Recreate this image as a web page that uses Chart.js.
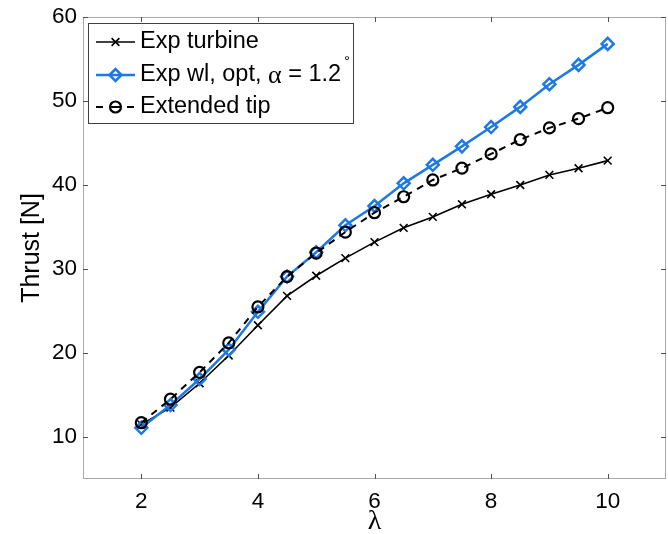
<!DOCTYPE html>
<html>
<head>
<meta charset="utf-8">
<script src="https://cdn.jsdelivr.net/npm/chart.js@4/dist/chart.umd.min.js"></script>
<style>
  html, body { margin: 0; padding: 0; background: #fff; }
  #wrap { width: 668px; height: 534px; }
</style>
</head>
<body>
<div id="wrap"><canvas id="thrust" width="668" height="534"></canvas></div>
<script>
// Tip speed ratio and measured/computed thrust
const lambdaValues = [2, 2.5, 3, 3.5, 4, 4.5, 5, 5.5, 6, 6.5, 7, 7.5, 8, 8.5, 9, 9.5, 10];
const expTurbine   = [11.5, 13.5, 16.4, 19.7, 23.3, 26.8, 29.2, 31.3, 33.2, 34.9, 36.2, 37.7, 38.9, 40.0, 41.2, 42.0, 42.9];
const expWlOpt     = [11.1, 13.8, 16.9, 20.4, 24.9, 29.1, 32.0, 35.2, 37.5, 40.2, 42.4, 44.6, 46.9, 49.3, 52.0, 54.3, 56.8];
const extendedTip  = [11.7, 14.5, 17.7, 21.2, 25.5, 29.1, 31.9, 34.4, 36.7, 38.6, 40.6, 42.0, 43.7, 45.4, 46.8, 47.9, 49.2];

const xTickValues = [2, 4, 6, 8, 10];
const yTickValues = [10, 20, 30, 40, 50, 60];
const seriesLabels = ['Exp turbine', 'Exp wl, opt, \u03B1 = 1.2\u00B0', 'Extended tip'];

const BLUE = '#1e78e6';
const SANS = '"Liberation Sans", Arial, sans-serif';
const SERIF = '"Liberation Serif", "DejaVu Serif", serif';

function points(ys) {
  return lambdaValues.map((x, i) => ({ x: x, y: ys[i] }));
}

function noScalePadding(s) {
  s.paddingLeft = 0; s.paddingRight = 0; s.paddingTop = 0; s.paddingBottom = 0;
}

// Box around the axes with inward tick marks on all four sides
const framePlugin = {
  id: 'frame',
  afterDatasetsDraw(chart) {
    const { ctx, chartArea: a, scales } = chart;
    ctx.save();
    ctx.lineWidth = 1;
    ctx.strokeStyle = '#a9a9a9';
    ctx.strokeRect(a.left + 0.5, a.top + 0.5, a.right - a.left - 1, a.bottom - a.top - 1);
    ctx.strokeStyle = '#505050';
    ctx.beginPath();
    xTickValues.forEach(v => {
      const px = Math.round(scales.x.getPixelForValue(v)) + 0.5;
      ctx.moveTo(px, a.bottom); ctx.lineTo(px, a.bottom - 5);
      ctx.moveTo(px, a.top); ctx.lineTo(px, a.top + 5);
    });
    yTickValues.forEach(v => {
      const py = Math.round(scales.y.getPixelForValue(v)) + 0.5;
      ctx.moveTo(a.left, py); ctx.lineTo(a.left + 5, py);
      ctx.moveTo(a.right, py); ctx.lineTo(a.right - 5, py);
    });
    ctx.stroke();
    ctx.restore();
  }
};

function drawMarker(ctx, style, x, y, r) {
  ctx.beginPath();
  if (style === 'crossRot') {
    const o = r * Math.SQRT1_2;
    ctx.moveTo(x - o, y - o); ctx.lineTo(x + o, y + o);
    ctx.moveTo(x + o, y - o); ctx.lineTo(x - o, y + o);
  } else if (style === 'rectRot') {
    ctx.moveTo(x - r, y); ctx.lineTo(x, y - r); ctx.lineTo(x + r, y); ctx.lineTo(x, y + r);
    ctx.closePath();
  } else {
    ctx.arc(x, y, r, 0, Math.PI * 2);
  }
  ctx.stroke();
}

// Boxed legend in the upper-left corner of the plot
const boxLegendPlugin = {
  id: 'boxLegend',
  afterDraw(chart) {
    const ctx = chart.ctx;
    const bx = 88, by = 23, bw = 265, bh = 100;
    const rows = [42, 75, 107];
    ctx.save();
    ctx.fillStyle = '#fff';
    ctx.fillRect(bx, by, bw, bh);
    ctx.strokeStyle = '#404040';
    ctx.lineWidth = 1;
    ctx.strokeRect(bx + 0.5, by + 0.5, bw, bh);

    chart.data.datasets.forEach((ds, i) => {
      const y = rows[i];
      ctx.strokeStyle = ds.borderColor;
      ctx.lineWidth = ds.borderWidth;
      ctx.beginPath();
      if (ds.borderDash) {
        ctx.moveTo(96, y); ctx.lineTo(103, y);
        ctx.moveTo(110, y); ctx.lineTo(120, y);
        ctx.moveTo(127, y); ctx.lineTo(134, y);
      } else {
        ctx.moveTo(96, y); ctx.lineTo(135, y);
      }
      ctx.stroke();
      ctx.lineWidth = ds.pointBorderWidth;
      ctx.strokeStyle = ds.pointBorderColor;
      drawMarker(ctx, ds.pointStyle, 115.5, y, ds.pointRadius);
    });

    ctx.fillStyle = '#000';
    ctx.textBaseline = 'middle';
    ctx.textAlign = 'left';
    const sans = '23.5px ' + SANS;
    ctx.font = sans;
    ctx.fillText(seriesLabels[0], 140, rows[0]);
    ctx.fillText(seriesLabels[2], 140, rows[2]);

    // second label: Greek alpha in a serif face and a raised degree sign
    const label = seriesLabels[1];
    const aIdx = label.indexOf('\u03B1');
    const dIdx = label.indexOf('\u00B0');
    let x = 140;
    const head = label.slice(0, aIdx);
    ctx.fillText(head, x, rows[1]);
    x += ctx.measureText(head).width;
    ctx.font = '26px ' + SERIF;
    ctx.fillText('\u03B1', x, rows[1] + 1);
    x += ctx.measureText('\u03B1').width;
    ctx.font = sans;
    const mid = label.slice(aIdx + 1, dIdx);
    ctx.fillText(mid, x, rows[1]);
    x += ctx.measureText(mid).width;
    ctx.font = '15px ' + SANS;
    ctx.fillText('\u00B0', x + 3, rows[1] - 13);
    ctx.restore();
  }
};

const tickFont = { family: SANS, size: 22.5 };

new Chart(document.getElementById('thrust'), {
  type: 'line',
  data: {
    datasets: [
      {
        label: seriesLabels[0],
        data: points(expTurbine),
        borderColor: '#000',
        backgroundColor: '#000',
        borderWidth: 1.6,
        pointStyle: 'crossRot',
        pointRadius: 5.5,
        pointBorderWidth: 1.6,
        pointBorderColor: '#000',
        pointBackgroundColor: 'rgba(0,0,0,0)',
        tension: 0,
        order: 3
      },
      {
        label: seriesLabels[1],
        data: points(expWlOpt),
        borderColor: BLUE,
        backgroundColor: BLUE,
        borderWidth: 2.5,
        pointStyle: 'rectRot',
        pointRadius: 6,
        pointBorderWidth: 2.5,
        pointBorderColor: BLUE,
        pointBackgroundColor: 'rgba(0,0,0,0)',
        tension: 0,
        order: 2
      },
      {
        label: seriesLabels[2],
        data: points(extendedTip),
        borderColor: '#000',
        backgroundColor: '#000',
        borderWidth: 2,
        borderDash: [7, 6],
        pointStyle: 'circle',
        pointRadius: 5.5,
        pointBorderWidth: 2.2,
        pointBorderColor: '#000',
        pointBackgroundColor: 'rgba(0,0,0,0)',
        tension: 0,
        order: 1
      }
    ]
  },
  options: {
    responsive: false,
    animation: false,
    devicePixelRatio: 1,
    layout: { autoPadding: false, padding: { top: 17, right: 2, left: 0, bottom: 0 } },
    plugins: { legend: { display: false }, tooltip: { enabled: false } },
    scales: {
      x: {
        type: 'linear',
        min: 1,
        max: 11,
        afterBuildTicks: s => { s.ticks = xTickValues.map(v => ({ value: v })); },
        afterFit: s => { s.height = 55; noScalePadding(s); },
        grid: { display: false, drawTicks: false, tickLength: 0 },
        border: { display: false },
        ticks: { font: tickFont, color: '#000', padding: 9, maxRotation: 0, autoSkip: false },
        title: {
          display: true,
          text: '\u03BB',
          color: '#000',
          font: { family: SERIF, size: 28, lineHeight: 0.9 },
          padding: { top: 0, bottom: 0 }
        }
      },
      y: {
        type: 'linear',
        min: 5,
        max: 60,
        afterBuildTicks: s => { s.ticks = yTickValues.map(v => ({ value: v })); },
        afterFit: s => { s.width = 83; noScalePadding(s); },
        grid: { display: false, drawTicks: false, tickLength: 0 },
        border: { display: false },
        ticks: { font: tickFont, color: '#000', padding: 6, autoSkip: false },
        title: {
          display: true,
          text: 'Thrust [N]',
          color: '#000',
          font: { family: SANS, size: 25, lineHeight: 1.2 },
          padding: { top: 17, bottom: 0 }
        }
      }
    }
  },
  plugins: [framePlugin, boxLegendPlugin]
});
</script>
</body>
</html>
